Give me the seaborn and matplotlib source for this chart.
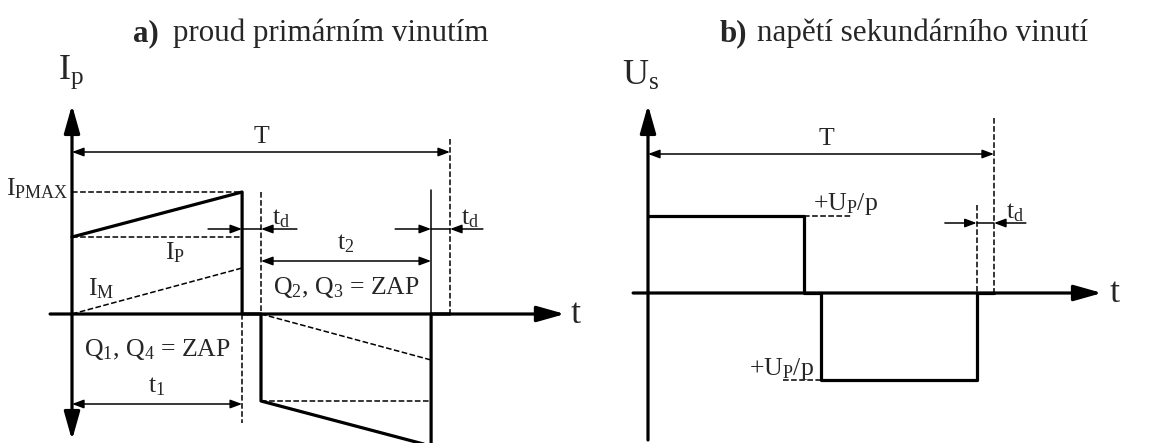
import matplotlib
matplotlib.use("Agg")
import matplotlib.pyplot as plt
import pandas as pd
import seaborn as sns

sns.set_theme(style="white")
plt.rcParams["font.family"] = ["Liberation Serif", "DejaVu Serif"]
plt.rcParams["mathtext.fontset"] = "custom"
plt.rcParams["mathtext.rm"] = "Liberation Serif"
plt.rcParams["mathtext.it"] = "Liberation Serif:italic"
plt.rcParams["mathtext.bf"] = "Liberation Serif:bold"

# ---- timing of one switching period -------------------------------------
T = 10.0          # period
t1 = 4.5          # Q1, Q4 conducting
td = 0.5          # dead time
t2 = 4.5          # Q2, Q3 conducting

# ---- a) primary current ---------------------------------------------------
prim_t = [0.0, 4.5, 4.5, 5.0, 5.0, 9.5, 9.5, 10.0]
prim_i = [7.7, 12.2, 0.0, 0.0, -8.7, -13.2, 0.0, 0.0]
ip_start = 7.7     # I_P level at start of t1
ip_max = 12.2      # I_PMAX
im_end = 4.6       # magnetizing current at end of t1
ip_neg = -8.7      # I_P level at start of t2
im_neg_end = -4.6  # magnetizing current at end of t2

# ---- b) secondary voltage -------------------------------------------------
sec_t = [0.0, 4.5, 4.5, 5.0, 5.0, 9.5, 9.5, 10.0]
sec_u = [7.7, 7.7, 0.0, 0.0, -8.7, -8.7, 0.0, 0.0]

BLACK = "black"
LW_THICK = 2.3
LW_THIN = 1.1
FS_LABEL = 18.5
FS_AXIS = 26
FS_TITLE = 22.3

fig = plt.figure(figsize=(11.72, 4.43), dpi=100)
ax_a = fig.add_axes([0, 0, 600 / 1172, 1])
ax_b = fig.add_axes([600 / 1172, 0, 572 / 1172, 1])
ax_a.set_xlim(-72 / 37.8, 528 / 37.8)
ax_a.set_ylim(-12.9, 31.4)
ax_b.set_xlim(-48 / 34.6, 524 / 34.6)
ax_b.set_ylim(-15.0, 29.3)
for ax in (ax_a, ax_b):
    ax.set_axis_off()


def segments_frame(segs):
    rows = []
    for k, (xs, ys) in enumerate(segs):
        for x, y in zip(xs, ys):
            rows.append({"seg": k, "x": x, "y": y})
    return pd.DataFrame(rows)


def draw_dashed(ax, segs):
    df = segments_frame(segs)
    sns.lineplot(data=df, x="x", y="y", units="seg", estimator=None,
                 sort=False, color=BLACK, lw=LW_THIN, linestyle="--",
                 dashes=False, ax=ax, legend=False)


def arrow(ax, start, end, style, scale, lw):
    ax.annotate("", xy=end, xytext=start, xycoords="data",
                arrowprops=dict(arrowstyle=style, color=BLACK, lw=lw,
                                shrinkA=0, shrinkB=0, mutation_scale=scale),
                annotation_clip=False)


AXIS_HEAD = "-|>,head_length=0.85,head_width=0.24"
AXIS_HEAD2 = "<|-|>,head_length=0.85,head_width=0.24"
DIM_HEAD2 = "<|-|>,head_length=0.7,head_width=0.26"
DIM_HEAD = "-|>,head_length=0.7,head_width=0.26"


def dim_line(ax, x0, x1, y):
    arrow(ax, (x0, y), (x1, y), DIM_HEAD2, 10, LW_THIN)


def dead_time(ax, xa, xb, y, left, right):
    arrow(ax, (left, y), (xa, y), DIM_HEAD, 10, LW_THIN)
    arrow(ax, (right, y), (xb, y), DIM_HEAD, 10, LW_THIN)
    ax.plot([xa, xb], [y, y], color=BLACK, lw=LW_THIN)


# ========================= a) proud primárním vinutím ======================
ax = ax_a
# coordinate axes
arrow(ax, (0, -12.6), (0, 20.9), AXIS_HEAD2, 20, LW_THICK)
arrow(ax, (-0.58, 0), (13.04, 0), AXIS_HEAD, 20, LW_THICK)

# helper dashed lines
draw_dashed(ax, [
    ((0, t1), (ip_max, ip_max)),
    ((0, t1), (ip_start, ip_start)),
    ((0, t1), (0, im_end)),
    ((t1, t1), (0, -10.9)),
    ((t1 + td, t1 + td), (ip_max, 0)),
    ((t1 + td, t1 + td + t2), (0, im_neg_end)),
    ((t1 + td, t1 + td + t2), (ip_neg, ip_neg)),
    ((T, T), (17.5, 0)),
])
ax.plot([t1 + td + t2, t1 + td + t2], [0, 12.4], color=BLACK, lw=LW_THIN)

# primary current waveform
sns.lineplot(x=prim_t, y=prim_i, sort=False, estimator=None, color=BLACK,
             lw=LW_THICK, ax=ax, legend=False)

# dimensions
dim_line(ax, 0, T, 16.2)
ax.text(T / 2, 16.6, "T", ha="center", va="bottom", fontsize=FS_LABEL)
dead_time(ax, t1, t1 + td, 8.5, 3.6, 5.95)
ax.text(5.3, 8.4, r"t$_{\mathrm{d}}$", ha="left", va="bottom", fontsize=FS_LABEL)
dead_time(ax, t1 + td + t2, T, 8.5, 8.55, 10.87)
ax.text(10.3, 8.4, r"t$_{\mathrm{d}}$", ha="left", va="bottom", fontsize=FS_LABEL)
dim_line(ax, t1 + td, t1 + td + t2, 5.3)
ax.text(t1 + td + t2 / 2, 5.9, r"t$_2$", ha="center", va="bottom", fontsize=FS_LABEL)
dim_line(ax, 0, t1, -9.0)
ax.text(t1 / 2, -8.4, r"t$_1$", ha="center", va="bottom", fontsize=FS_LABEL)

# labels
ax.text(t1 + td + t2 / 2, 2.6, r"Q$_2$, Q$_3$ = ZAP", ha="center", va="center",
        fontsize=FS_LABEL)
ax.text(t1 / 2, -3.6, r"Q$_1$, Q$_4$ = ZAP", ha="center", va="center",
        fontsize=FS_LABEL)
ax.text(-0.1, ip_max + 0.3, r"I$_{\mathrm{PMAX}}$", ha="right", va="center",
        fontsize=FS_LABEL)
ax.text(2.72, 6.1, r"I$_{\mathrm{P}}$", ha="center", va="center", fontsize=FS_LABEL)
ax.text(0.77, 2.5, r"I$_{\mathrm{M}}$", ha="center", va="center", fontsize=FS_LABEL)
ax.text(-0.38, 23.5, r"I$_{\mathrm{p}}$", ha="left", va="baseline", fontsize=FS_AXIS)
ax.text(13.2, -0.9, "t", ha="left", va="baseline", fontsize=FS_AXIS)

# ========================= b) napětí sekundárního vinutí ===================
ax = ax_b
arrow(ax, (0, -14.7), (0, 18.8), AXIS_HEAD, 20, LW_THICK)
arrow(ax, (-0.43, 0), (13.12, 0), AXIS_HEAD, 20, LW_THICK)

draw_dashed(ax, [
    ((t1, 5.9), (sec_u[0], sec_u[0])),
    ((3.9, t1 + td), (sec_u[4], sec_u[4])),
    ((t1 + td + t2, t1 + td + t2), (8.8, 0)),
    ((T, T), (17.5, 0)),
])

sns.lineplot(x=sec_t, y=sec_u, sort=False, estimator=None, color=BLACK,
             lw=LW_THICK, ax=ax, legend=False)

dim_line(ax, 0, T, 13.9)
ax.text(T / 2 + 0.15, 14.3, "T", ha="center", va="bottom", fontsize=FS_LABEL)
dead_time(ax, t1 + td + t2, T, 7.0, 8.58, 10.92)
ax.text(10.35, 6.9, r"t$_{\mathrm{d}}$", ha="left", va="bottom", fontsize=FS_LABEL)

ax.text(4.77, 8.3, r"+U$_{\mathrm{P}}$/p", ha="left", va="baseline",
        fontsize=FS_LABEL)
ax.text(4.8, -8.2, r"+U$_{\mathrm{P}}$/p", ha="right", va="baseline",
        fontsize=FS_LABEL)
ax.text(-0.75, 20.8, r"U$_{\mathrm{s}}$", ha="left", va="baseline", fontsize=FS_AXIS)
ax.text(13.35, -0.9, "t", ha="left", va="baseline", fontsize=FS_AXIS)

# ========================= titles ==========================================
fig.text(133 / 1172, 1 - 41 / 443, "a)", ha="left", va="baseline",
         fontsize=FS_TITLE, fontweight="bold")
fig.text(173 / 1172, 1 - 41 / 443, "proud primárním vinutím", ha="left",
         va="baseline", fontsize=FS_TITLE)
fig.text(720 / 1172, 1 - 41 / 443, "b)", ha="left", va="baseline",
         fontsize=FS_TITLE, fontweight="bold")
fig.text(757 / 1172, 1 - 41 / 443, "napětí sekundárního vinutí", ha="left",
         va="baseline", fontsize=FS_TITLE)

fig.savefig("out.png", dpi=100, facecolor="white")
